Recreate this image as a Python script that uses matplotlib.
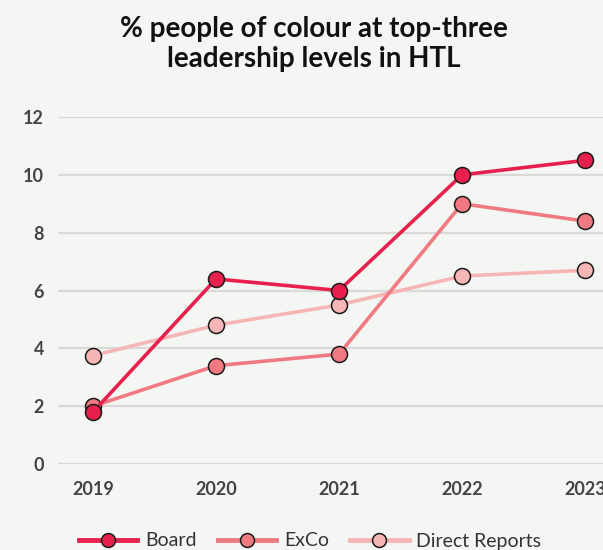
import matplotlib
matplotlib.use("Agg")
import matplotlib.pyplot as plt
from matplotlib.lines import Line2D

years = [2019, 2020, 2021, 2022, 2023]
board = [1.8, 6.4, 6.0, 10.0, 10.5]
exco = [2.0, 3.4, 3.8, 9.0, 8.4]
direct = [3.75, 4.8, 5.5, 6.5, 6.7]
series_names = ["Board", "ExCo", "Direct Reports"]
colors = ["#E8204E", "#F07A82", "#F7B6B6"]
yticks = [0, 2, 4, 6, 8, 10, 12]
title = "% people of colour at top-three\nleadership levels in HTL"

bg = "#F4F6F3"
plt.rcParams['font.family'] = ['Lato', 'DejaVu Sans']

fig = plt.figure(figsize=(6.03, 5.5), dpi=100, facecolor=bg)
ax = fig.add_axes([58/603, 86/550, 1 - 58/603, (464-117)/550])
ax.set_facecolor(bg)

for vals, c, z in [(direct, colors[2], 3), (exco, colors[1], 4), (board, colors[0], 5)]:
    ax.plot(years, vals, color=c, lw=2.6, marker='o', ms=11.5,
            markerfacecolor=c, markeredgecolor='#1a1a1a', markeredgewidth=1.1,
            zorder=z, clip_on=False)

ax.set_ylim(0, 12)
ax.set_xlim(2018.715, 2023.146)
ax.set_yticks(yticks)
ax.set_xticks(years)
ax.grid(axis='y', color='#D9DAD8', lw=1.6)
ax.set_axisbelow(True)
for s in ax.spines.values():
    s.set_visible(False)
ax.tick_params(length=0, labelsize=13, labelcolor='#444444', pad=10)
ax.tick_params(axis='x', pad=12)
for lab in ax.get_xticklabels() + ax.get_yticklabels():
    lab.set_fontweight('bold')

fig.text(314/603, 1 - 44/550, title, ha='center', va='center',
         fontsize=20, fontweight='bold', color='#111111', linespacing=1.2)

handles = [Line2D([0], [0], color=c, lw=3.5, marker='o', ms=10,
                  markerfacecolor=c, markeredgecolor='#1a1a1a', markeredgewidth=1.1)
           for c in colors]
leg = fig.legend(handles, series_names, loc='center', bbox_to_anchor=(310/603, 1 - 541/550),
                 ncol=3, frameon=False, fontsize=14, handlelength=3.0,
                 columnspacing=1.1, handletextpad=0.4, labelcolor='#333333')

fig.savefig("out.png", dpi=100, facecolor=bg)
